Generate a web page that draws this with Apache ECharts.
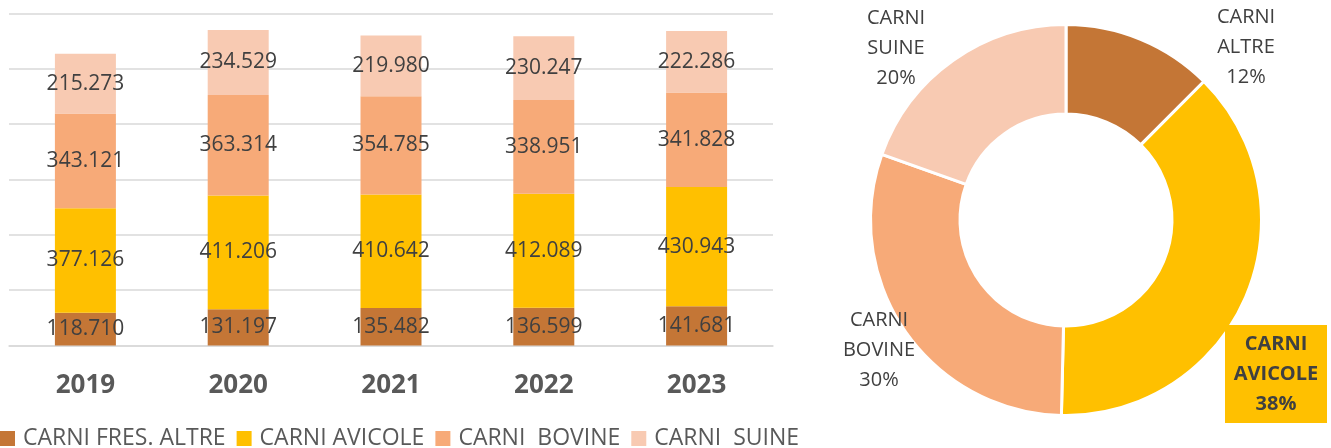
<!DOCTYPE html>
<html>
<head>
<meta charset="utf-8">
<script src="https://cdn.jsdelivr.net/npm/echarts@6/dist/echarts.min.js"></script>
<style>
  html, body { margin: 0; padding: 0; background: #fff; }
  #chart { width: 1331px; height: 448px; }
</style>
</head>
<body>
<div id="chart"></div>
<script>
var years = ["2019", "2020", "2021", "2022", "2023"];
var seriesNames = ["CARNI FRES. ALTRE", "CARNI AVICOLE", "CARNI  BOVINE", "CARNI  SUINE"];
var altre = [118710, 131197, 135482, 136599, 141681];
var avicole = [377126, 411206, 410642, 412089, 430943];
var bovine = [343121, 363314, 354785, 338951, 341828];
var suine = [215273, 234529, 219980, 230247, 222286];
// ciambella: valori 2023
var pieNames = ["CARNI ALTRE", "CARNI AVICOLE", "CARNI BOVINE", "CARNI SUINE"];
var pieValues = [141681, 430943, 341828, 222286];

var colors = ["#C47636", "#FFC000", "#F7AA78", "#F8CAB2"];
var font = "Open Sans";

// posizione etichette ciambella (centro testo)
var pieLabelX = [1246, 1276, 879, 896];
var pieLabelY = [47, 374, 350, 48];

function fmt(v) {
  return String(v).replace(/\B(?=(\d{3})+(?!\d))/g, ".");
}

var myChart = echarts.init(document.getElementById("chart"));

var barData = [altre, avicole, bovine, suine];
var series = [];
for (var i = 0; i < seriesNames.length; i++) {
  series.push({
    type: "bar",
    name: seriesNames[i],
    stack: "tot",
    barWidth: 61,
    itemStyle: { color: colors[i] },
    label: {
      show: true,
      position: "inside",
      color: "#404040",
      fontFamily: font,
      fontSize: 21,
      formatter: function (p) { return fmt(p.value); }
    },
    emphasis: { disabled: true },
    data: barData[i]
  });
}

var pieData = pieNames.map(function (n, i) {
  var item = { name: n, value: pieValues[i], itemStyle: { color: colors[i] } };
  if (i === 1) {
    item.label = {
      color: "#404040",
      fontWeight: "bold",
      width: 90,
      backgroundColor: "#FFC000",
      padding: [4, 6, 4, 6]
    };
  }
  return item;
});

series.push({
  type: "pie",
  center: [1066, 220],
  radius: [106, 195.5],
  startAngle: 90,
  percentPrecision: 0,
  itemStyle: { borderColor: "#fff", borderWidth: 3 },
  label: {
    show: true,
    position: "outside",
    color: "#404040",
    fontFamily: font,
    fontSize: 20,
    lineHeight: 30,
    width: 110,
    overflow: "none",
    align: "center",
    formatter: function (p) { return p.name.replace(" ", "\n") + "\n" + p.percent + "%"; }
  },
  labelLine: { show: false },
  labelLayout: function (p) {
    return { x: pieLabelX[p.dataIndex], y: pieLabelY[p.dataIndex], align: "center", verticalAlign: "middle" };
  },
  emphasis: { disabled: true },
  data: pieData
});

var option = {
  animation: false,
  textStyle: { fontFamily: font },
  legend: {
    data: seriesNames,
    left: 0,
    top: 427,
    padding: 0,
    itemWidth: 15,
    itemHeight: 15,
    itemGap: 11,
    icon: "rect",
    textStyle: { color: "#595959", fontFamily: font, fontSize: 23, lineHeight: 23, padding: [0, 0, 0, 3] }
  },
  grid: { left: 9, right: 558, top: 13.5, bottom: 102.5 },
  xAxis: {
    type: "category",
    data: years,
    axisLine: { lineStyle: { color: "#D9D9D9", width: 1.5 } },
    axisTick: { show: false },
    axisLabel: { color: "#595959", fontFamily: font, fontSize: 26, fontWeight: "bold", margin: 27 }
  },
  yAxis: {
    type: "value",
    min: 0,
    max: 1200000,
    interval: 200000,
    axisLabel: { show: false },
    axisLine: { show: false },
    axisTick: { show: false },
    splitLine: { lineStyle: { color: "#D9D9D9", width: 1.5 } }
  },
  series: series
};

myChart.setOption(option);
</script>
</body>
</html>
